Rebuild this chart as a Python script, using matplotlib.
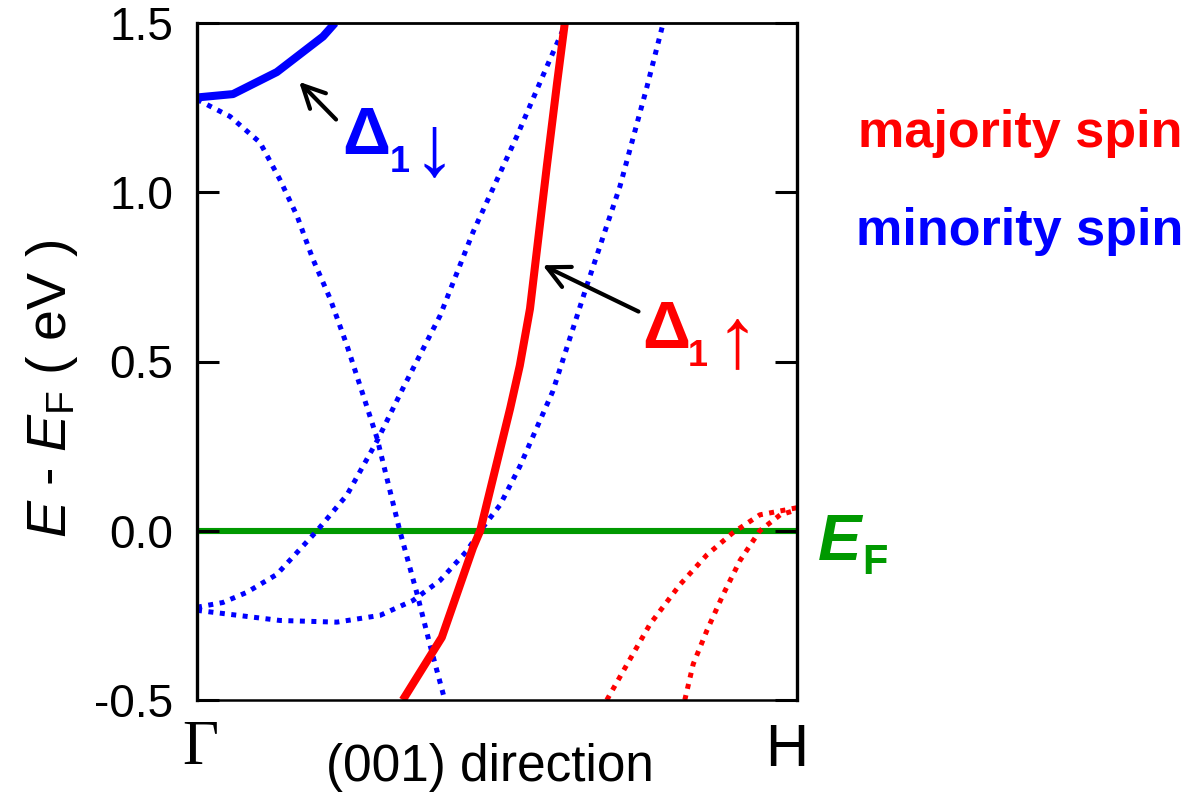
#!/usr/bin/env python3
import matplotlib
matplotlib.use("Agg")
import matplotlib.pyplot as plt

# band structure along Gamma-H, k in units of the Gamma-H distance, E - E_F in eV
# minority spin, Delta_1 band (solid)
dn_d1_k = [0.0, 0.06, 0.133, 0.21, 0.23]
dn_d1_e = [1.28, 1.29, 1.355, 1.46, 1.50]

# minority spin, other bands (dotted)
dn_a_k = [0.0, 0.055, 0.105, 0.138, 0.167, 0.193, 0.222, 0.25, 0.277, 0.3, 0.338, 0.367, 0.388, 0.413]
dn_a_e = [1.274, 1.224, 1.147, 1.038, 0.929, 0.803, 0.685, 0.547, 0.4, 0.274, 0.0, -0.188, -0.335, -0.5]

dn_b_k = [0.0, 0.043, 0.083, 0.133, 0.2, 0.25, 0.3, 0.343, 0.405, 0.46, 0.533, 0.583, 0.615]
dn_b_e = [-0.226, -0.212, -0.182, -0.129, 0.0, 0.106, 0.265, 0.42, 0.635, 0.882, 1.165, 1.371, 1.5]

dn_c_k = [0.0, 0.055, 0.138, 0.233, 0.305, 0.36, 0.405, 0.45, 0.472, 0.505, 0.538, 0.593, 0.65, 0.705, 0.75, 0.777]
dn_c_e = [-0.235, -0.247, -0.265, -0.27, -0.25, -0.206, -0.147, -0.059, 0.0, 0.076, 0.19, 0.412, 0.726, 1.018, 1.312, 1.5]

# majority spin, Delta_1 band (solid)
up_d1_k = [0.343, 0.408, 0.46, 0.472, 0.522, 0.538, 0.555, 0.583, 0.6, 0.613]
up_d1_e = [-0.5, -0.315, -0.05, 0.0, 0.362, 0.488, 0.656, 1.076, 1.321, 1.5]

# majority spin, other bands near H (dotted)
up_a_k = [0.683, 0.717, 0.755, 0.805, 0.85, 0.893, 0.938, 1.0]
up_a_e = [-0.5, -0.394, -0.276, -0.159, -0.071, -0.006, 0.047, 0.068]

up_b_k = [0.813, 0.827, 0.85, 0.877, 0.905, 0.938, 0.972, 1.0]
up_b_e = [-0.5, -0.394, -0.294, -0.188, -0.088, 0.0, 0.047, 0.062]

yticks = [-0.5, 0.0, 0.5, 1.0, 1.5]
ytick_labels = ["-0.5", "0.0", "0.5", "1.0", "1.5"]

red = "#ff0000"
blue = "#0000ff"
green = "#009900"
sans = "Liberation Sans"

plt.rcParams['font.family'] = [sans, 'DejaVu Sans']
plt.rcParams['mathtext.fontset'] = 'custom'
plt.rcParams['mathtext.rm'] = sans
plt.rcParams['mathtext.it'] = sans + ':italic'
plt.rcParams['mathtext.bf'] = sans + ':bold'

fig = plt.figure(figsize=(11.91, 7.92), dpi=100)
ax = fig.add_axes([197 / 1191, 1 - 700 / 792, 600 / 1191, 677 / 792])


def dotted(k, e, color):
	ax.plot(k, e, color=color, lw=3.6, dashes=(1, 1.3), dash_capstyle='butt')


# Fermi level
ax.axhline(0.0, color=green, lw=4.4, zorder=1)

dotted(dn_a_k, dn_a_e, blue)
dotted(dn_b_k, dn_b_e, blue)
dotted(dn_c_k, dn_c_e, blue)
dotted(up_a_k, up_a_e, red)
dotted(up_b_k, up_b_e, red)
ax.plot(dn_d1_k, dn_d1_e, color=blue, lw=5.8, solid_capstyle='butt')
ax.plot(up_d1_k, up_d1_e, color=red, lw=5.8, solid_capstyle='butt')

ax.set_xlim(0, 1)
ax.set_ylim(-0.5, 1.5)
ax.set_xticks([])
ax.set_yticks(yticks)
ax.set_yticklabels(ytick_labels, fontsize=33)
ax.tick_params(axis='y', direction='in', length=16, width=2.2, right=True, pad=17)

ax.spines['left'].set_linewidth(2.4)
ax.spines['right'].set_linewidth(2.4)
ax.spines['top'].set_linewidth(2.0)
ax.spines['bottom'].set_linewidth(1.8)

ax.set_ylabel(r'$\mathit{E}$ - $\mathit{E}_\mathrm{F}$ ( eV )', fontsize=40)
ax.yaxis.set_label_coords(-0.195, 0.46)
ax.set_xlabel('(001) direction', fontsize=37)
ax.xaxis.set_label_coords(0.488, -0.064)

# k-point labels
ax.text(0.005, -0.072, '\u0393', transform=ax.transAxes, ha='center', va='center',
	fontsize=45, family='Liberation Serif')
ax.text(0.983, -0.075, 'H', transform=ax.transAxes, ha='center', va='center', fontsize=43)

# band annotations
ax.annotate('', xy=(0.167, 1.332), xytext=(0.235, 1.209),
	arrowprops=dict(arrowstyle='->', lw=3, color='black', mutation_scale=40))
ax.text(0.242, 1.112, '\u0394', color=blue, fontsize=48, fontweight='bold', va='baseline')
ax.text(0.322, 1.059, '1', color=blue, fontsize=26, fontweight='bold', va='baseline')
ax.text(0.36, 1.053, '\u2193', color=blue, fontsize=62, va='baseline')

ax.annotate('', xy=(0.572, 0.788), xytext=(0.74, 0.644),
	arrowprops=dict(arrowstyle='->', lw=3, color='black', mutation_scale=40))
ax.text(0.742, 0.541, '\u0394', color=red, fontsize=48, fontweight='bold', va='baseline')
ax.text(0.818, 0.488, '1', color=red, fontsize=26, fontweight='bold', va='baseline')
ax.text(0.864, 0.485, '\u2191', color=red, fontsize=62, va='baseline')

# Fermi level label
ax.text(1.035, -0.085, 'E', color=green, fontsize=47, fontweight='bold', style='italic',
	va='baseline', clip_on=False)
ax.text(1.108, -0.129, 'F', color=green, fontsize=30, fontweight='bold',
	va='baseline', clip_on=False)

# spin legend
fig.text(1183 / 1191, 1 - 147 / 792, 'majority spin', color=red, fontsize=37.5,
	fontweight='bold', ha='right', va='baseline')
fig.text(1183 / 1191, 1 - 245 / 792, 'minority spin', color=blue, fontsize=37.5,
	fontweight='bold', ha='right', va='baseline')

fig.savefig('out.png', dpi=100)
